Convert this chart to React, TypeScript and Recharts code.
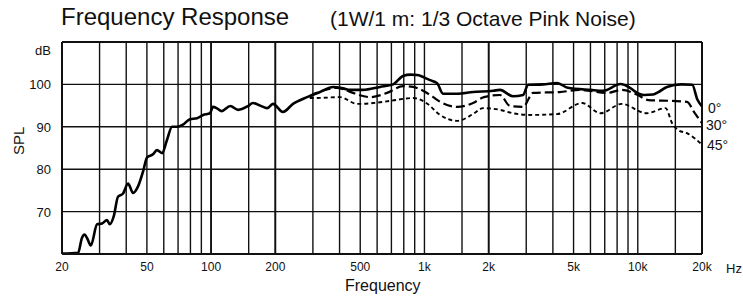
import {
  LineChart,
  Line,
  XAxis,
  YAxis,
  CartesianGrid,
  ReferenceLine,
} from "recharts";

// grid + labels
const GRID_FREQS = [
  20, 30, 40, 50, 60, 70, 80, 90, 100, 150, 200, 300, 400, 500, 600, 700, 800,
  900, 1000, 1500, 2000, 3000, 4000, 5000, 6000, 7000, 8000, 9000, 10000,
  15000, 20000,
];
const LABEL_FREQS = [20, 50, 100, 200, 500, 1000, 2000, 5000, 10000, 20000];
const LABEL_TEXT = ["20", "50", "100", "200", "500", "1k", "2k", "5k", "10k", "20k"];
const DB_TICKS = [60, 70, 80, 90, 100, 110];

// 0 deg
const FREQ_0 = [
  20, 23.8, 24.8, 25.5, 26.3, 27.3, 29.2, 30.8, 32.5, 33.5, 35, 36.6, 38.6,
  40.8, 43.1, 45.5, 48, 50.1, 53.4, 55.7, 58.9, 62.1, 65.6, 69.2, 73.8, 79.6,
  85.9, 91.7, 98.8, 102, 107, 112, 123, 134, 149, 157, 170, 183, 195, 217, 242,
  282, 324, 373, 420, 448, 515, 619, 713, 794, 860, 923, 1062, 1146, 1222,
  1300, 1422, 1690, 2099, 2260, 2600, 2900, 3060, 3600, 4188, 4700, 6000, 6900,
  8300, 9200, 9930, 10700, 11800, 12500, 13700, 16000, 18000, 19000, 20000,
];
const SPL_0 = [
  60.1, 60.3, 63.8, 64.6, 63.6, 62.0, 67.0, 67.2, 68.0, 67.0, 69.0, 73.5, 74.2,
  76.6, 74.4, 76.0, 79.5, 82.8, 83.5, 84.5, 83.8, 86.9, 90.0, 90.0, 90.5, 91.8,
  92.0, 92.8, 93.2, 94.7, 94.3, 93.7, 94.9, 94.0, 94.9, 95.6, 95.0, 94.4, 95.4,
  93.5, 95.4, 97.0, 98.2, 99.4, 99.0, 98.7, 98.7, 99.4, 100.0, 102.0, 102.3,
  102.2, 101.0, 100.3, 97.8, 97.8, 97.8, 98.2, 98.5, 98.7, 97.2, 97.5, 99.9,
  100.0, 100.3, 99.2, 98.7, 98.5, 100.1, 99.2, 98.0, 97.5, 97.6, 98.2, 99.4,
  100.0, 99.9, 96.5, 94.8,
];

// 30 deg
const FREQ_30 = [
  290, 313, 350, 389, 430, 462, 556, 668, 794, 885, 985, 1100, 1183, 1422,
  1690, 1900, 2260, 2518, 2899, 3229, 4300, 5360, 7200, 8400, 10000, 11200,
  14500, 17000, 18500, 20000,
];
const SPL_30 = [
  97.2, 98.0, 98.8, 99.2, 98.6, 98.0, 97.0, 98.0, 99.6, 99.4, 98.5, 97.0, 95.9,
  94.7, 95.6, 97.0, 97.5, 94.9, 94.7, 98.0, 98.2, 98.7, 98.0, 98.7, 97.5, 96.3,
  96.1, 95.9, 93.2, 90.9,
];

// 45 deg
const FREQ_45 = [
  290, 313, 402, 483, 574, 690, 885, 1028, 1183, 1422, 1690, 1883, 2260, 2600,
  3127, 4188, 5480, 6700, 8400, 11000, 13500, 14500, 15500, 17000, 20000,
];
const SPL_45 = [
  96.8, 96.8, 97.0, 95.4, 95.6, 96.1, 96.8, 95.5, 92.8, 91.4, 93.0, 94.4, 94.0,
  93.2, 92.8, 93.0, 95.6, 93.2, 95.4, 93.2, 94.4, 90.8, 89.2, 88.5, 85.8,
];

const FONT = '"Liberation Sans", Arial, Helvetica, sans-serif';

const toRows = (f: number[], s: number[]) =>
  f.map((v, i) => ({ f: v, spl: s[i] }));

const data0 = toRows(FREQ_0, SPL_0);
const data30 = toRows(FREQ_30, SPL_30);
const data45 = toRows(FREQ_45, SPL_45);

const FreqTick = (props: any) => {
  const { x, y, payload } = props;
  const i = LABEL_FREQS.indexOf(payload.value);
  if (i < 0) return <g />;
  return (
    <text
      x={x}
      y={y + 15}
      textAnchor="middle"
      fontSize={12}
      fontFamily={FONT}
      fill="#111"
    >
      {LABEL_TEXT[i]}
    </text>
  );
};

const DbTick = (props: any) => {
  const { x, y, payload } = props;
  if (payload.value === 60) return <g />;
  const isTop = payload.value === 110;
  return (
    <text
      x={x}
      y={isTop ? y + 13 : y + 5}
      textAnchor="end"
      fontSize={13}
      fontFamily={FONT}
      fill="#111"
    >
      {isTop ? "dB" : payload.value}
    </text>
  );
};

const txt = (
  left: number,
  top: number,
  size: number,
  content: string,
  extra: any = {}
) => (
  <div
    style={{
      position: "absolute",
      left,
      top,
      fontSize: size,
      fontFamily: FONT,
      color: "#111",
      lineHeight: 1,
      whiteSpace: "nowrap",
      ...extra,
    }}
  >
    {content}
  </div>
);

const App = () => {
  return (
    <div
      style={{
        position: "absolute",
        left: 0,
        top: 0,
        width: 743,
        height: 302,
        background: "#fff",
      }}
    >
      {txt(61, 5, 24, "Frequency Response")}
      {txt(330, 8, 21, "(1W/1 m: 1/3 Octave Pink Noise)")}

      <LineChart
        width={743}
        height={302}
        margin={{ top: 42, right: 41, bottom: 0, left: 0 }}
      >
        <CartesianGrid stroke="#111" strokeWidth={1.4} />

        <XAxis
          dataKey="f"
          type="number"
          scale="log"
          domain={[20, 20000]}
          ticks={GRID_FREQS}
          interval={0}
          allowDataOverflow
          height={48}
          tickSize={0}
          tickLine={false}
          axisLine={{ stroke: "#111", strokeWidth: 2 }}
          tick={<FreqTick />}
        />

        <YAxis
          type="number"
          domain={[60, 110]}
          ticks={DB_TICKS}
          interval={0}
          allowDataOverflow
          width={62}
          tickSize={0}
          tickMargin={11}
          tickLine={false}
          axisLine={{ stroke: "#111", strokeWidth: 2 }}
          tick={<DbTick />}
        />

        <ReferenceLine y={110} stroke="#111" strokeWidth={2} />
        <ReferenceLine x={20000} stroke="#111" strokeWidth={2} />
        <ReferenceLine x={100} stroke="#111" strokeWidth={1.8} />
        <ReferenceLine x={200} stroke="#111" strokeWidth={1.8} />
        <ReferenceLine x={2000} stroke="#111" strokeWidth={1.8} />

        <Line
          data={data45}
          dataKey="spl"
          type="monotone"
          stroke="#000"
          strokeWidth={1.9}
          strokeDasharray="4 3"
          dot={false}
          isAnimationActive={false}
        />
        <Line
          data={data30}
          dataKey="spl"
          type="monotone"
          stroke="#000"
          strokeWidth={2.2}
          strokeDasharray="9 4"
          dot={false}
          isAnimationActive={false}
        />
        <Line
          data={data0}
          dataKey="spl"
          type="monotone"
          stroke="#000"
          strokeWidth={2.6}
          dot={false}
          isAnimationActive={false}
        />
      </LineChart>

      {txt(726, 262, 13, "Hz")}
      {txt(345, 278, 16, "Frequency")}
      {txt(4, 141, 15, "SPL", {
        transform: "translate(0, -50%) rotate(-90deg)",
        transformOrigin: "center",
        width: 28,
        textAlign: "center",
      })}
      {txt(708, 101, 14, "0°")}
      {txt(706, 118, 14, "30°")}
      {txt(707, 138, 14, "45°")}
    </div>
  );
};

export default App;
